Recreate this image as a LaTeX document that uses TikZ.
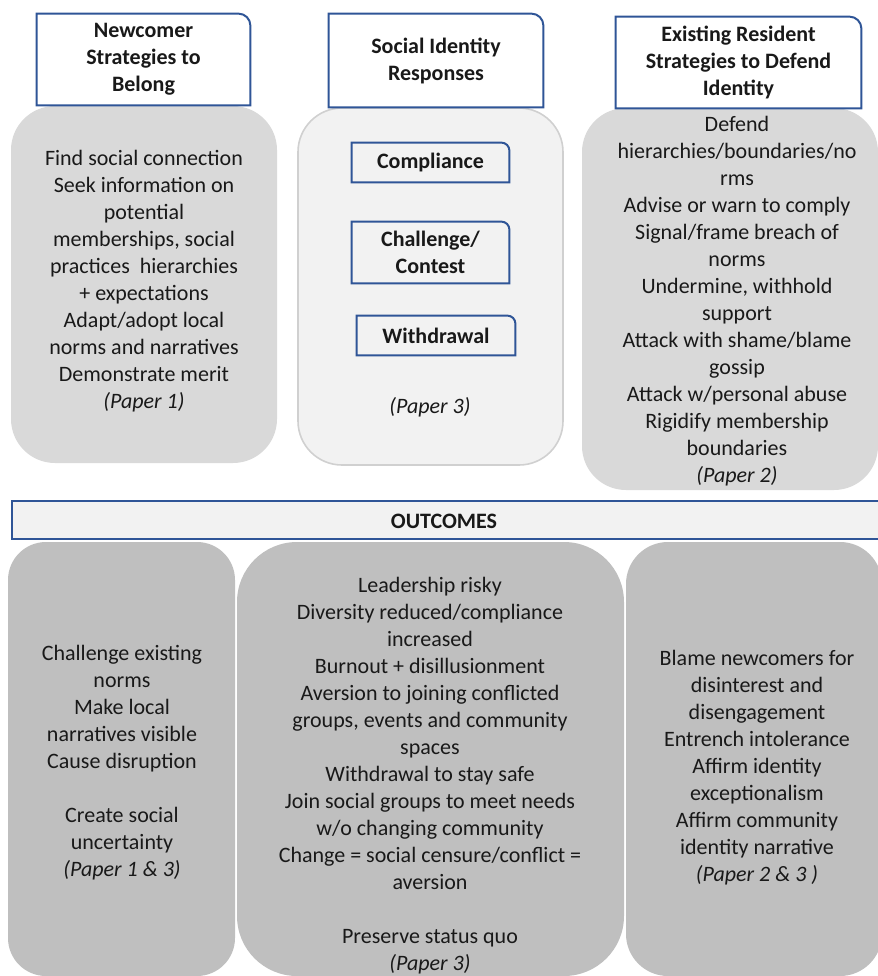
\documentclass[tikz,border=0pt]{standalone}
\usepackage{fontspec}
\setmainfont{Carlito}
\usetikzlibrary{positioning}
\definecolor{hdrblue}{RGB}{47,85,151}
\definecolor{panelgray}{RGB}{217,217,217}
\definecolor{palegray}{RGB}{242,242,242}
\definecolor{rimgray}{RGB}{208,208,208}
\definecolor{outgray}{RGB}{191,191,191}
\definecolor{inkdark}{RGB}{25,25,25}
\tikzset{
  panel/.style={
    rectangle, fill=panelgray,
    rounded corners=22pt,
    inner sep=0pt,
  },
  midpanel/.style={panel, fill=palegray, draw=rimgray, line width=0.8pt},
  outpanel/.style={panel, fill=outgray},
  body/.style={ % plain text inside the panels
    align=center, inner sep=0pt, text=inkdark,
    font=\fontsize{11}{13.5}\selectfont,
  },
  hdr/.style={ % title boxes on top of the columns
    body, fill=white,
    font=\fontsize{11}{13.5}\selectfont\bfseries,
  },
  tag/.style={body, font=\fontsize{11}{13.5}\selectfont\bfseries},
  rim/.style={draw=hdrblue, line width=1pt},
}

\begin{document}
\begin{tikzpicture}[x=0.5pt, y=-0.5pt]
		\clip (0,0) rectangle (878,976);
		% column 1: newcomers
		\node[panel, minimum width=133pt, minimum height=178.5pt] (p1) at (144,284.5) {};
		\node[body] (t1) at (144,281.5) {Find social connection\\Seek information on\\potential\\memberships, social\\practices\ \ hierarchies\\+ expectations\\Adapt/adopt local\\norms and narratives\\Demonstrate merit\\\textit{(Paper 1)}};
		\node[hdr, minimum width=106.5pt, minimum height=45.5pt] (h1) at (143.5,59.5) {Newcomer\\Strategies to\\Belong};
		% column 2: responses
		\node[midpanel, minimum width=132.5pt, minimum height=178.5pt] (p2) at (430.5,286.5) {};
		\node[hdr, minimum width=107pt, minimum height=46.5pt] (h2) at (436,60.5) {Social Identity\\Responses};
		\node[tag, minimum width=78.5pt, minimum height=19.5pt] (c1) at (430.5,162.5) {Compliance};
		\node[tag, minimum width=78.5pt, minimum height=30.5pt] (c2) at (430.5,252.5) {Challenge/\\Contest};
		\node[tag, minimum width=79pt, minimum height=19.5pt] (c3) at (436,335.5) {Withdrawal};
		\node[body] (t2) at (430,407) {\textit{(Paper 3)}};
		% column 3: existing residents
		\node[panel, minimum width=148pt, minimum height=191pt] (p3) at (730,299) {};
		\node[body] (t3) at (737,301) {Defend\\hierarchies/boundaries/no\\rms\\Advise or warn to comply\\Signal/frame breach of\\norms\\Undermine, withhold\\support\\Attack with shame/blame\\gossip\\Attack w/personal abuse\\Rigidify membership\\boundaries\\\textit{(Paper 2)}};
		\node[hdr, minimum width=122.5pt, minimum height=45.5pt] (h3) at (738.5,62.5) {Existing Resident\\Strategies to Defend\\Identity};
		% blue rims, only the top right corner is round
		\foreach \n/\r in {h1/6pt, h2/6pt, h3/6pt, c1/4pt, c2/4pt, c3/4pt}
			\draw[rim] (\n.south west) -- (\n.north west) -- ([xshift=-\r]\n.north east)
				arc[start angle=90, end angle=0, radius=\r] -- (\n.south east) -- cycle;
		% outcomes bar
		\node[body, fill=palegray, draw=hdrblue, line width=1pt, minimum width=434pt, minimum height=19pt] (out) at (446,520) {};
		\node[tag] (outt) at (444,521) {OUTCOMES};
		% outcome panels
		\node[outpanel, rounded corners=19pt, minimum width=113.5pt, minimum height=217pt] (o1) at (121.5,759) {};
		\node[outpanel, rounded corners=30pt, minimum width=193.5pt, minimum height=217pt] (o2) at (430.5,759) {};
		\node[outpanel, rounded corners=21pt, minimum width=128pt, minimum height=217pt] (o3) at (754,759) {};
		\node[body] (u1) at (122,762.5) {Challenge existing\\norms\\Make local\\narratives visible\\Cause disruption\\[13.5pt]Create social\\uncertainty\\\textit{(Paper 1 \& 3)}};
		\node[body] (u2) at (430,776) {Leadership risky\\Diversity reduced/compliance\\increased\\Burnout + disillusionment\\Aversion to joining conflicted\\groups, events and community\\spaces\\Withdrawal to stay safe\\Join social groups to meet needs\\w/o changing community\\Change = social censure/conflict =\\aversion\\[13.5pt]Preserve status quo\\\textit{(Paper 3)}};
		\node[body] (u3) at (757,767.5) {Blame newcomers for\\disinterest and\\disengagement\\Entrench intolerance\\Affirm identity\\exceptionalism\\Affirm community\\identity narrative\\\textit{(Paper 2 \& 3 )}};
	\end{tikzpicture}
\end{document}
